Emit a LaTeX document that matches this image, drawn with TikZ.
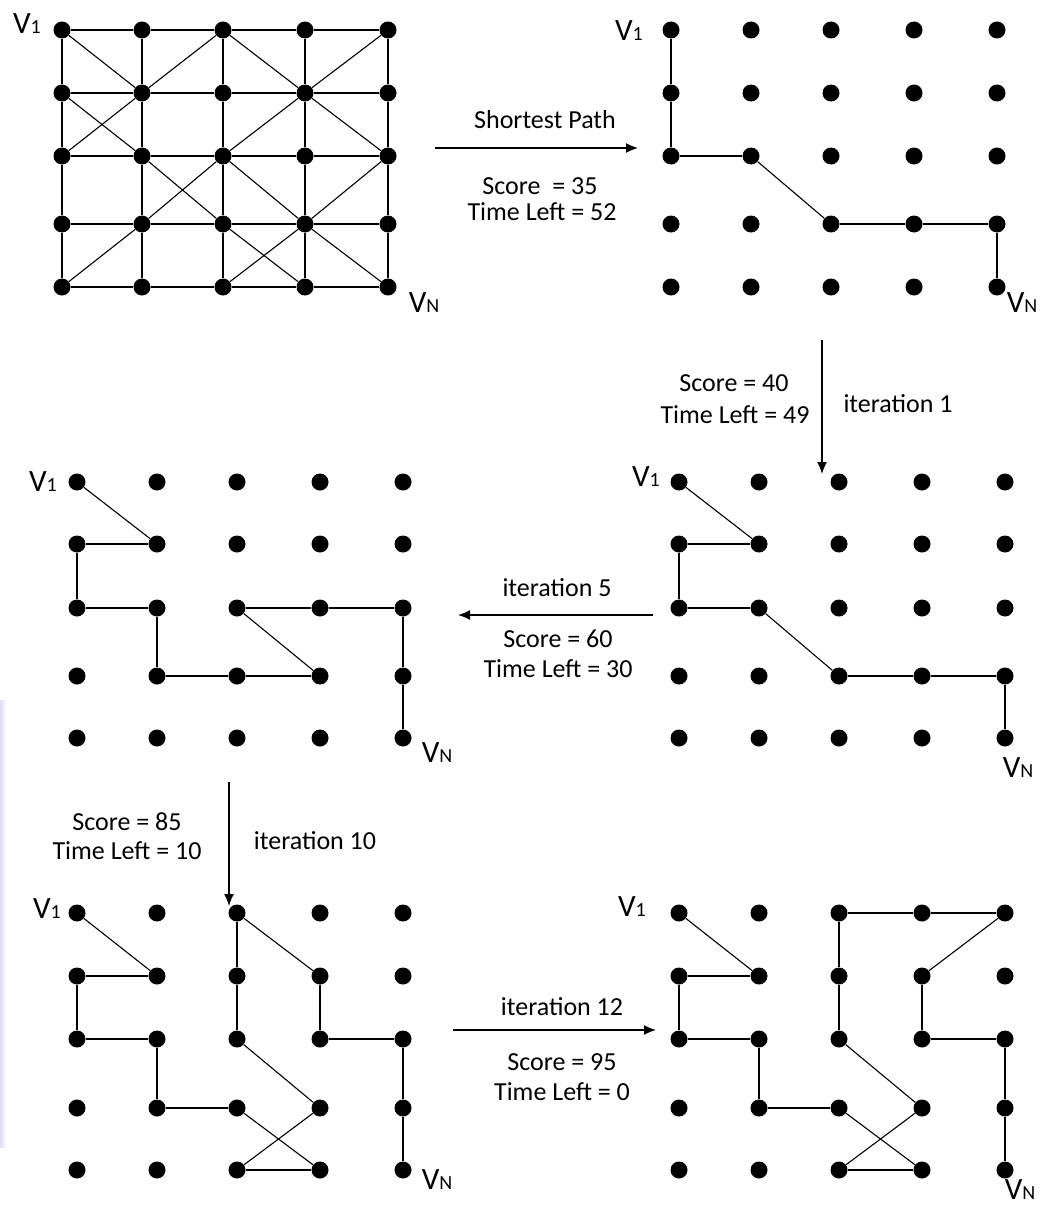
\documentclass[tikz,border=0pt]{standalone}
\usepackage{fontspec}
\setmainfont{Carlito}
\usetikzlibrary{arrows.meta}
\definecolor{lav}{RGB}{222,219,242}
\newcommand{\dotgrid}[3]{%
  \foreach \xx [count=\ii from 0] in {#2}{%
    \foreach \yy [count=\jj from 0] in {#3}{%
      \node[dot] (#1-\ii-\jj) at (\xx,\yy) {};
    }%
  }%
}
\newcommand{\vone}{V{\fontsize{20}{22}\selectfont 1}}
\newcommand{\vn}{V{\fontsize{20}{22}\selectfont N}}
\begin{document}
\begin{tikzpicture}[x=1pt,y=-1pt,
  dot/.style={circle,fill=black,inner sep=0pt,minimum size=17pt},
  edge/.style={line width=1.9pt},
  diag/.style={line width=1.1pt},
  lbl/.style={font=\fontsize{26}{30}\selectfont,inner sep=0pt},
  vlbl/.style={font=\fontsize{31}{34}\selectfont,inner sep=0pt},
  arr/.style={line width=1.4pt,-{Latex[length=12pt,width=10pt]}}]
\useasboundingbox (0,0) rectangle (1041,1207);
\fill[white] (0,0) rectangle (1041,1207);
\shade[left color=lav,right color=white] (0,700) rectangle (6,1147);

% ---------- panel 1: full graph ----------
\dotgrid{a}{62,142,223,305,388}{30,93,156,224,287}
\foreach \j in {0,...,4}{
  \draw[edge] (a-0-\j) -- (a-1-\j) -- (a-2-\j) -- (a-3-\j) -- (a-4-\j);
  \draw[edge] (a-\j-0) -- (a-\j-1) -- (a-\j-2) -- (a-\j-3) -- (a-\j-4);
}
\draw[diag] (a-0-0) -- (a-1-1) -- (a-2-0) -- (a-3-1) -- (a-4-0);
\draw[diag] (a-0-1) -- (a-1-2) -- (a-2-3) -- (a-3-4);
\draw[diag] (a-1-1) -- (a-0-2);
\draw[diag] (a-3-1) -- (a-2-2) -- (a-1-3) -- (a-0-4);
\draw[diag] (a-3-1) -- (a-4-2) -- (a-3-3) -- (a-2-4);
\draw[diag] (a-2-2) -- (a-3-3) -- (a-4-4);
\node[vlbl] (a-v1) at (27,24) {\vone};
\node[vlbl] (a-vn) at (424,303) {\vn};

% ---------- panel 2: shortest path ----------
\dotgrid{b}{671,751,831,914,997}{30,93,156,224,287}
\draw[edge] (b-0-0) -- (b-0-1) -- (b-0-2) -- (b-1-2);
\draw[diag] (b-1-2) -- (b-2-3);
\draw[edge] (b-2-3) -- (b-3-3) -- (b-4-3) -- (b-4-4);
\node[vlbl] (b-v1) at (629,31) {\vone};
\node[vlbl] (b-vn) at (1022,303) {\vn};

% ---------- panel 4: iteration 1 ----------
\dotgrid{d}{679,759,839,922,1005}{482,544,608,676,738}
\draw[diag] (d-0-0) -- (d-1-1);
\draw[edge] (d-1-1) -- (d-0-1) -- (d-0-2) -- (d-1-2);
\draw[diag] (d-1-2) -- (d-2-3);
\draw[edge] (d-2-3) -- (d-3-3) -- (d-4-3) -- (d-4-4);
\node[vlbl] (d-v1) at (646,477) {\vone};
\node[vlbl] (d-vn) at (1018,768) {\vn};

% ---------- panel 3: iteration 5 ----------
\dotgrid{c}{77,157,237,320,403}{482,544,608,676,738}
\draw[diag] (c-0-0) -- (c-1-1);
\draw[edge] (c-1-1) -- (c-0-1) -- (c-0-2) -- (c-1-2) -- (c-1-3) -- (c-2-3) -- (c-3-3);
\draw[diag] (c-3-3) -- (c-2-2);
\draw[edge] (c-2-2) -- (c-3-2) -- (c-4-2) -- (c-4-3) -- (c-4-4);
\node[vlbl] (c-v1) at (43,482) {\vone};
\node[vlbl] (c-vn) at (437,753) {\vn};

% ---------- panel 5: iteration 10 ----------
\dotgrid{e}{77,157,237,320,403}{913,976,1039,1108,1170}
\draw[diag] (e-0-0) -- (e-1-1);
\draw[edge] (e-1-1) -- (e-0-1) -- (e-0-2) -- (e-1-2) -- (e-1-3) -- (e-2-3);
\draw[diag] (e-2-3) -- (e-3-4);
\draw[edge] (e-3-4) -- (e-2-4);
\draw[diag] (e-2-4) -- (e-3-3) -- (e-2-2);
\draw[edge] (e-2-2) -- (e-2-1) -- (e-2-0);
\draw[diag] (e-2-0) -- (e-3-1);
\draw[edge] (e-3-1) -- (e-3-2) -- (e-4-2) -- (e-4-3) -- (e-4-4);
\node[vlbl] (e-v1) at (47,909) {\vone};
\node[vlbl] (e-vn) at (437,1180) {\vn};

% ---------- panel 6: iteration 12 ----------
\dotgrid{f}{679,759,839,922,1005}{913,976,1039,1108,1170}
\draw[diag] (f-0-0) -- (f-1-1);
\draw[edge] (f-1-1) -- (f-0-1) -- (f-0-2) -- (f-1-2) -- (f-1-3) -- (f-2-3);
\draw[diag] (f-2-3) -- (f-3-4);
\draw[edge] (f-3-4) -- (f-2-4);
\draw[diag] (f-2-4) -- (f-3-3) -- (f-2-2);
\draw[edge] (f-2-2) -- (f-2-1) -- (f-2-0) -- (f-3-0) -- (f-4-0);
\draw[diag] (f-4-0) -- (f-3-1);
\draw[edge] (f-3-1) -- (f-3-2) -- (f-4-2) -- (f-4-3) -- (f-4-4);
\node[vlbl] (f-v1) at (632,907) {\vone};
\node[vlbl] (f-vn) at (1020,1190) {\vn};

% ---------- transitions ----------
\coordinate (t1s) at (435,148);  \coordinate (t1e) at (638,148);
\coordinate (t2s) at (822,340);  \coordinate (t2e) at (822,474);
\coordinate (t3s) at (653,615);  \coordinate (t3e) at (458,615);
\coordinate (t4s) at (229,782);  \coordinate (t4e) at (229,906);
\coordinate (t5s) at (453,1030); \coordinate (t5e) at (656,1030);
\draw[arr] (t1s) -- (t1e);
\draw[arr] (t2s) -- (t2e);
\draw[arr] (t3s) -- (t3e);
\draw[arr] (t4s) -- (t4e);
\draw[arr] (t5s) -- (t5e);

\node[lbl] (l1a) at (545,120) {Shortest Path};
\node[lbl] (l1b) at (540,186) {Score\ \ = 35};
\node[lbl] (l1c) at (542,212) {Time Left = 52};

\node[lbl] (l2a) at (734,383) {Score = 40};
\node[lbl] (l2b) at (735,415) {Time Left = 49};
\node[lbl] (l2c) at (898,404) {iteration 1};

\node[lbl] (l3a) at (557,588) {iteration 5};
\node[lbl] (l3b) at (558,639) {Score = 60};
\node[lbl] (l3c) at (558,669) {Time Left = 30};

\node[lbl] (l4a) at (127,822) {Score = 85};
\node[lbl] (l4b) at (127,851) {Time Left = 10};
\node[lbl] (l4c) at (315,841) {iteration 10};

\node[lbl] (l5a) at (562,1007) {iteration 12};
\node[lbl] (l5b) at (562,1062) {Score = 95};
\node[lbl] (l5c) at (562,1092) {Time Left = 0};
\end{tikzpicture}
\end{document}
